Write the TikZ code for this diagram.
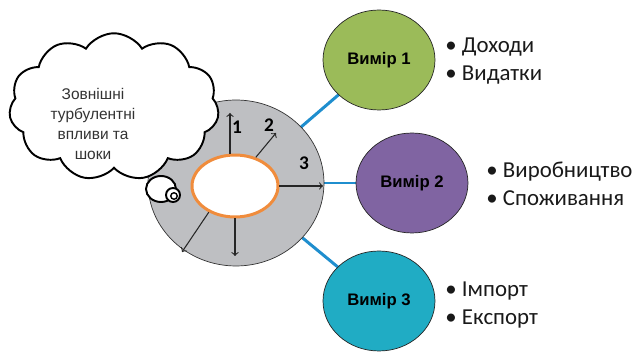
\documentclass[tikz,border=0pt]{standalone}
\usepackage{fontspec}
\usetikzlibrary{shapes.geometric,shapes.symbols,backgrounds}
\newfontfamily\calib{Carlito}
\newfontfamily\arialf{Liberation Sans}
\definecolor{hubgray}{RGB}{190,191,194}
\definecolor{linkblue}{RGB}{31,142,206}
\definecolor{dimgreen}{RGB}{155,187,89}
\definecolor{dimviolet}{RGB}{128,100,162}
\definecolor{dimteal}{RGB}{32,172,196}
\definecolor{coreorange}{RGB}{240,140,60}
\newcommand{\itm}[1]{\textbullet\hspace{3pt}#1}
\begin{document}
\begin{tikzpicture}[
    x=0.02cm, y=-0.02cm,
    hub/.style={
        ellipse,
        draw=black!80,
        fill=hubgray,
        minimum width=3.52cm,
        minimum height=3.32cm
    },
    core/.style={
        ellipse,
        draw=coreorange,
        line width=1.7pt,
        fill=white,
        minimum width=1.72cm,
        minimum height=1.24cm
    },
    dim/.style={
        ellipse,
        draw=black!85,
        minimum width=2.24cm,
        minimum height=2.0cm,
        font=\arialf\bfseries\fontsize{9.5}{11}\selectfont
    },
    items/.style={
        anchor=west,
        align=left,
        inner sep=0pt,
        text=black!90,
        font=\calib\fontsize{13}{16}\selectfont
    },
    bubble/.style={
        draw=black,
        line width=1.1pt,
        fill=white
    },
    link/.style={
        linkblue,
        line width=1.7pt
    },
    arr/.style={
        ->,
        black!85,
        semithick
    },
    num/.style={
        font=\calib\bfseries\fontsize{11}{13}\selectfont
    }
]
    \useasboundingbox (0,0) rectangle (633,354);

    % --- Centre ---
    \node[hub] (hub) at (236,183) {};
    \node[core] (core) at (235,186) {};

    % --- Dimensions ---
    \node[dim, fill=dimgreen] (d1) at (379,60) {Вимір 1};
    \node[dim, fill=dimviolet] (d2) at (412,183) {Вимір 2};
    \node[dim, fill=dimteal] (d3) at (379,301) {Вимір 3};

    \begin{scope}[on background layer]
        \draw[link] (hub.center) -- (d1.center);
        \draw[link] (hub.center) -- (d2.center);
        \draw[link] (hub.center) -- (d3.center);
    \end{scope}

    % --- Lists ---
    \node[items] (l1) at (445,61) {\itm{Доходи}\\\itm{Видатки}};
    \node[items] (l2) at (486,184) {\itm{Виробництво}\\\itm{Споживання}};
    \node[items] (l3) at (445,305) {\itm{Імпорт}\\\itm{Експорт}};

    % --- Arrows out of the core ---
    \coordinate (a1) at (230,113);
    \coordinate (a2) at (276,133);
    \coordinate (a3) at (323,186);
    \coordinate (a4) at (235,256);
    \coordinate (a5) at (182,252);
    \draw[arr] (core.north -| a1) -- (a1);
    \draw[arr] (core.54) -- (a2);
    \draw[arr] (core.east) -- (a3);
    \draw[arr] (core.south) -- (a4);
    \draw[arr] (core.225) -- (a5);
    \node[num] (n1) at (237,127) {1};
    \node[num] (n2) at (269,125) {2};
    \node[num] (n3) at (304,163) {3};

    % --- Thought cloud ---
    \node[cloud, bubble, cloud puffs=11, cloud puff arc=115, cloud ignores aspect,
        minimum width=4.2cm, minimum height=2.95cm] (cloud) at (114,107) {};
    \node[align=center, text=black!80, font=\arialf\fontsize{8.8}{11.3}\selectfont]
        (ctext) at (93,124) {Зовнішні\\турбулентні\\впливи та\\шоки};
    \node[bubble, ellipse, minimum width=0.6cm, minimum height=0.52cm] (b1) at (161,189) {};
    \begin{scope}[on background layer]
        \draw[black!85] (core.west) -- (b1.center);
    \end{scope}
    \node[bubble, circle, minimum size=0.28cm, inner sep=0pt] (b2) at (173,195) {};
    \node[bubble, circle, minimum size=0.13cm, inner sep=0pt, line width=0.8pt] (b3) at (174,196) {};
\end{tikzpicture}
\end{document}
